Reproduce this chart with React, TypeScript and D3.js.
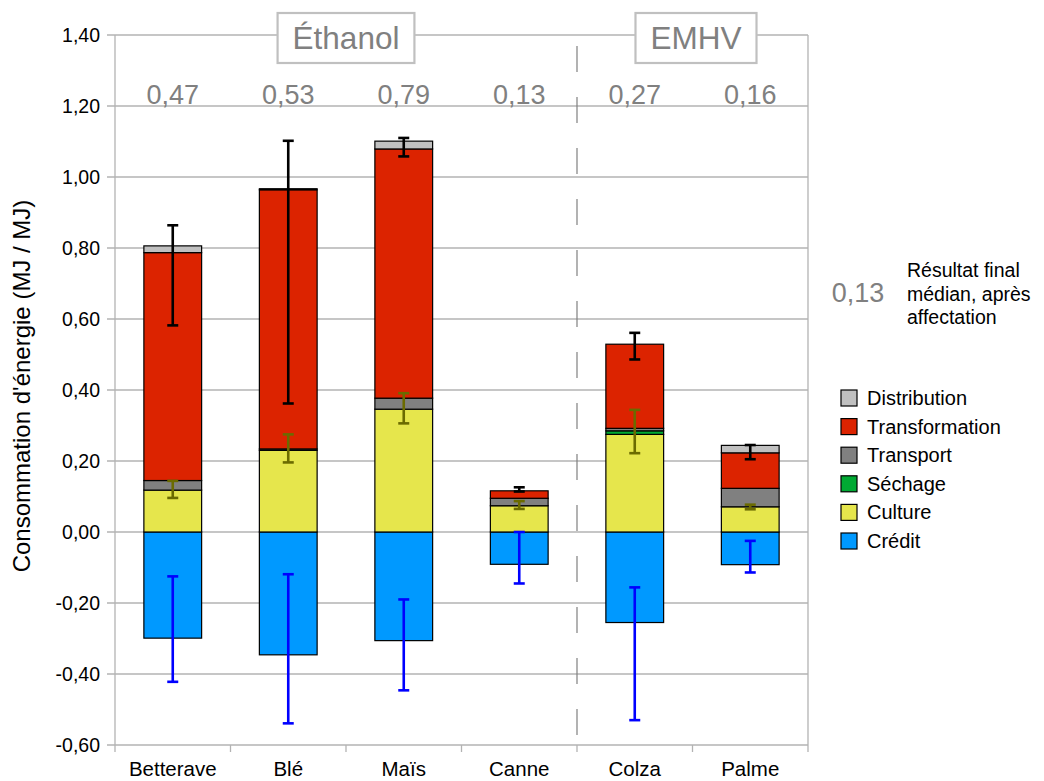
import React, { useEffect, useRef } from "react";
import * as d3 from "d3";

// Energy consumption per MJ of biofuel, by feedstock and process stage
const categories = ["Betterave", "Blé", "Maïs", "Canne", "Colza", "Palme"];

const culture = [0.118, 0.23, 0.346, 0.074, 0.275, 0.071];
const sechage = [0, 0, 0, 0, 0.01, 0];
const transport = [0.027, 0.004, 0.031, 0.021, 0.007, 0.052];
const transformation = [0.642, 0.73, 0.702, 0.021, 0.237, 0.1];
const distribution = [0.019, 0.003, 0.022, 0, 0, 0.021];
const credit = [-0.299, -0.346, -0.306, -0.091, -0.255, -0.092];

// Uncertainty ranges: total, culture stage, co-product credit
const totalLow = [0.582, 0.362, 1.058, 0.114, 0.486, 0.205];
const totalHigh = [0.864, 1.102, 1.11, 0.126, 0.561, 0.245];
const cultureLow = [0.096, 0.196, 0.306, 0.065, 0.222, 0.064];
const cultureHigh = [0.144, 0.275, 0.391, 0.087, 0.344, 0.077];
const creditLow = [-0.422, -0.539, -0.446, -0.145, -0.53, -0.114];
const creditHigh = [-0.125, -0.119, -0.19, 0.0, -0.156, -0.025];

// Median final result after allocation
const medianResult = [0.47, 0.53, 0.79, 0.13, 0.27, 0.16];
const legendExample = 0.13;

const groups = [
  { name: "Éthanol", from: 0, to: 3 },
  { name: "EMHV", from: 4, to: 5 },
];

const yTicks = [-0.6, -0.4, -0.2, 0, 0.2, 0.4, 0.6, 0.8, 1.0, 1.2, 1.4];

const seriesKeys = ["Crédit", "Culture", "Séchage", "Transport", "Transformation", "Distribution"];
const seriesValues: Record<string, number[]> = {
  "Crédit": credit,
  "Culture": culture,
  "Séchage": sechage,
  "Transport": transport,
  "Transformation": transformation,
  "Distribution": distribution,
};
const colors: Record<string, string> = {
  "Distribution": "#c0c0c0",
  "Transformation": "#dc2300",
  "Transport": "#808080",
  "Séchage": "#00a933",
  "Culture": "#e6e64c",
  "Crédit": "#0099ff",
};
const legendOrder = ["Distribution", "Transformation", "Transport", "Séchage", "Culture", "Crédit"];

const W = 1044;
const H = 781;
const FONT = "'Liberation Sans', Arial, sans-serif";
const fmt = (v: number) => v.toFixed(2).replace(".", ",");

export default function App() {
  const ref = useRef<SVGSVGElement | null>(null);

  useEffect(() => {
    const svg = d3.select(ref.current);
    svg.selectAll("*").remove();

    const left = 115, right = 808, top = 35, bottom = 745;
    const y = d3.scaleLinear().domain([-0.6, 1.4]).range([bottom, top]);
    const x = d3.scaleBand<string>().domain(categories).range([left, right]).paddingInner(0.5).paddingOuter(0.25);
    const step = (right - left) / categories.length;

    const g = svg.append("g").attr("font-family", FONT);

    // Horizontal gridlines
    g.append("g")
      .selectAll("line")
      .data(yTicks)
      .join("line")
      .attr("x1", left - 8)
      .attr("x2", right)
      .attr("y1", (d) => y(d))
      .attr("y2", (d) => y(d))
      .attr("stroke", "#b3b3b3")
      .attr("stroke-width", 1.3);

    // Frame: left axis and right border
    g.append("line").attr("x1", left).attr("x2", left).attr("y1", top).attr("y2", bottom).attr("stroke", "#b3b3b3").attr("stroke-width", 1.3);
    g.append("line").attr("x1", right).attr("x2", right).attr("y1", top).attr("y2", bottom).attr("stroke", "#b3b3b3").attr("stroke-width", 1.3);

    // X axis ticks at category boundaries
    g.append("g")
      .selectAll("line")
      .data(d3.range(categories.length + 1))
      .join("line")
      .attr("x1", (i) => left + i * step)
      .attr("x2", (i) => left + i * step)
      .attr("y1", bottom)
      .attr("y2", bottom + 7)
      .attr("stroke", "#b3b3b3")
      .attr("stroke-width", 1.3);

    // Y tick labels
    g.append("g")
      .selectAll("text")
      .data(yTicks)
      .join("text")
      .attr("x", 100)
      .attr("y", (d) => y(d) + 7)
      .attr("text-anchor", "end")
      .attr("font-size", 19.5)
      .attr("fill", "#000")
      .text((d) => fmt(d));

    // Y axis title
    g.append("text")
      .attr("transform", `translate(30,${(top + bottom) / 2 - 4}) rotate(-90)`)
      .attr("text-anchor", "middle")
      .attr("font-size", 24)
      .attr("fill", "#000")
      .text("Consommation d'énergie (MJ / MJ)");

    // X category labels
    g.append("g")
      .selectAll("text")
      .data(categories)
      .join("text")
      .attr("x", (d) => x(d)! + x.bandwidth() / 2)
      .attr("y", 776)
      .attr("text-anchor", "middle")
      .attr("font-size", 20.5)
      .attr("fill", "#000")
      .text((d) => d);

    // Dashed separator between ethanol and biodiesel groups
    const sepX = left + 4 * step;
    g.append("line")
      .attr("x1", sepX)
      .attr("x2", sepX)
      .attr("y1", 46)
      .attr("y2", bottom)
      .attr("stroke", "#808080")
      .attr("stroke-width", 1.2)
      .attr("stroke-dasharray", "26,25");

    // Stacked bars
    const rows = categories.map((c, i) => {
      const r: Record<string, number | string> = { cat: c };
      seriesKeys.forEach((k) => (r[k] = seriesValues[k][i]));
      return r;
    });
    const stack = d3
      .stack<Record<string, number | string>>()
      .keys(seriesKeys)
      .value((d, k) => d[k] as number)
      .offset(d3.stackOffsetDiverging);
    const layers = stack(rows);

    const barG = g.append("g");
    layers.forEach((layer) => {
      barG
        .append("g")
        .selectAll("rect")
        .data(layer.filter((d) => d[1] - d[0] !== 0))
        .join("rect")
        .attr("x", (d) => x(d.data.cat as string)!)
        .attr("width", x.bandwidth())
        .attr("y", (d) => y(Math.max(d[0], d[1])))
        .attr("height", (d) => Math.abs(y(d[0]) - y(d[1])))
        .attr("fill", colors[layer.key])
        .attr("stroke", "#000")
        .attr("stroke-width", 1.2);
    });

    // Error bars
    const errSets = [
      { low: creditLow, high: creditHigh, color: "#0000ff" },
      { low: cultureLow, high: cultureHigh, color: "#6b6b00" },
      { low: totalLow, high: totalHigh, color: "#000000" },
    ];
    errSets.forEach((s) => {
      const eg = g.append("g").attr("stroke", s.color).attr("stroke-width", 2.6);
      categories.forEach((c, i) => {
        const cx = x(c)! + x.bandwidth() / 2;
        const y1 = y(s.low[i]);
        const y2 = y(s.high[i]);
        eg.append("line").attr("x1", cx).attr("x2", cx).attr("y1", y1).attr("y2", y2);
        eg.append("line").attr("x1", cx - 5.5).attr("x2", cx + 5.5).attr("y1", y1).attr("y2", y1);
        eg.append("line").attr("x1", cx - 5.5).attr("x2", cx + 5.5).attr("y1", y2).attr("y2", y2);
      });
    });

    // Median results above each bar
    g.append("g")
      .selectAll("text")
      .data(medianResult)
      .join("text")
      .attr("x", (_, i) => x(categories[i])! + x.bandwidth() / 2)
      .attr("y", 104)
      .attr("text-anchor", "middle")
      .attr("font-size", 27)
      .attr("fill", "#808080")
      .text((d) => fmt(d));

    // Group title boxes
    groups.forEach((gr) => {
      const cx = left + ((gr.from + gr.to + 1) / 2) * step + (gr.name === "EMHV" ? 3.5 : 0);
      const tg = g.append("g");
      const t = tg
        .append("text")
        .attr("x", cx)
        .attr("y", 49)
        .attr("text-anchor", "middle")
        .attr("font-size", 31.5)
        .attr("fill", "#808080")
        .text(gr.name);
      const w = (t.node() as SVGTextElement).getComputedTextLength() + 30;
      tg.insert("rect", "text")
        .attr("x", cx - w / 2)
        .attr("y", 13)
        .attr("width", w)
        .attr("height", 50)
        .attr("fill", "#fff")
        .attr("stroke", "#c0c0c0")
        .attr("stroke-width", 2.2);
    });

    // Legend: example median value with its explanation
    g.append("text")
      .attr("x", 858)
      .attr("y", 302)
      .attr("text-anchor", "middle")
      .attr("font-size", 27)
      .attr("fill", "#808080")
      .text(fmt(legendExample));
    const note = g.append("text").attr("font-size", 19.5).attr("fill", "#000");
    ["Résultat final", "médian, après", "affectation"].forEach((line, i) => {
      note.append("tspan").attr("x", 907).attr("y", 277 + i * 23.5).text(line);
    });

    // Legend: series
    const lg = g.append("g");
    legendOrder.forEach((k, i) => {
      const cy = 398 + i * 28.6;
      lg.append("rect")
        .attr("x", 841)
        .attr("y", cy - 8)
        .attr("width", 16)
        .attr("height", 16)
        .attr("fill", colors[k])
        .attr("stroke", "#000")
        .attr("stroke-width", 1.2);
      lg.append("text")
        .attr("x", 867)
        .attr("y", cy + 7)
        .attr("font-size", 20)
        .attr("fill", "#000")
        .text(k);
    });
  }, []);

  return (
    <svg
      ref={ref}
      width={W}
      height={H}
      viewBox={`0 0 ${W} ${H}`}
      style={{ position: "absolute", left: 0, top: 0, background: "#fff" }}
    />
  );
}
